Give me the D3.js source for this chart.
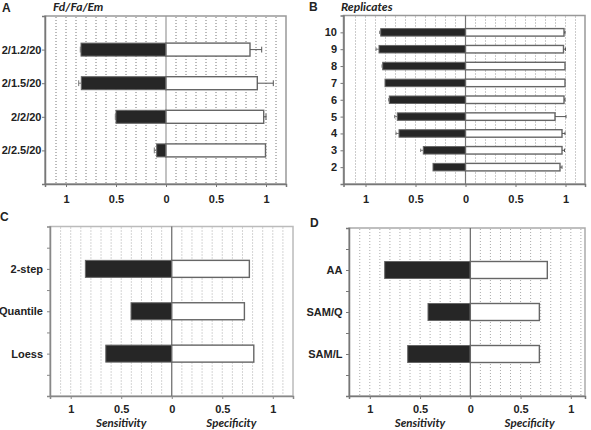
<!DOCTYPE html>
<html>
<head>
<meta charset="utf-8">
<script src="https://cdn.jsdelivr.net/npm/d3@7"></script>
<style>
  html, body { margin: 0; padding: 0; background: #fff; }
  svg { display: block; }
</style>
</head>
<body>
<svg id="chart" width="591" height="430"></svg>
<script>
// ---------- data ----------
const categoriesA = ["2/1.2/20", "2/1.5/20", "2/2/20", "2/2.5/20"];
const sensA      = [0.850, 0.847, 0.500, 0.093];
const sensErrA   = [0.007, 0.026, 0.007, 0.024];
const specA      = [0.840, 0.913, 0.977, 0.995];
const specErrA   = [0.117, 0.160, 0.023, 0.000];

const categoriesB = ["10", "9", "8", "7", "6", "5", "4", "3", "2"];
const sensB      = [0.848, 0.865, 0.828, 0.805, 0.762, 0.682, 0.665, 0.422, 0.325];
const sensErrB   = [0.010, 0.030, 0.007, 0.000, 0.006, 0.026, 0.030, 0.026, 0.000];
const specB      = [0.985, 0.980, 0.995, 0.995, 0.985, 0.895, 0.965, 0.965, 0.945];
const specErrB   = [0.010, 0.020, 0.000, 0.000, 0.010, 0.110, 0.030, 0.025, 0.020];

const categoriesC = ["2-step", "Quantile", "Loess"];
const sensC      = [0.855, 0.403, 0.653];
const specC      = [0.768, 0.719, 0.812];

const categoriesD = ["AA", "SAM/Q", "SAM/L"];
const sensD      = [0.852, 0.421, 0.623];
const specD      = [0.766, 0.687, 0.687];

const xTickValues = [-1, -0.5, 0, 0.5, 1];
const gridValues = d3.range(-11, 12).filter(v => v !== 0).map(v => v / 10);

const SANS = '"Liberation Sans", Arial, Helvetica, sans-serif';
const ITAL = 'Lato, "Open Sans", sans-serif';

const panels = [
  { letter: "A", title: "Fd/Fa/Em", cats: categoriesA, sens: sensA, sensErr: sensErrA, spec: specA, specErr: specErrA,
    box: { l: 45, r: 286, t: 16, b: 184 }, xDom: [-1.21, 1.20], yDom: [0, 5], yTicks: [1, 2, 3, 4],
    barH: 13, labelOff: 3.5, xPad: 8.5, gridColor: "#777", zeroColor: "#999", frameColor: "#999", axisColor: "#777",
    letterPos: [2, 11.5], titlePos: [53, 10.5], xLabels: false },
  { letter: "B", title: "Replicates", cats: categoriesB, sens: sensB, sensErr: sensErrB, spec: specB, specErr: specErrB,
    box: { l: 343.5, r: 585, t: 15.5, b: 184 }, xDom: [-1.22, 1.195], yDom: [0, 10], yTicks: d3.range(1, 10),
    barH: 7.5, labelOff: 6.5, xPad: 8.5, gridColor: "#999", zeroColor: "#777", frameColor: "#999", axisColor: "#777",
    letterPos: [309, 10.5], titlePos: [341, 10.5], xLabels: false },
  { letter: "C", title: "", cats: categoriesC, sens: sensC, sensErr: null, spec: specC, specErr: null,
    box: { l: 50, r: 293, t: 226.5, b: 396 }, xDom: [-1.205, 1.2], yDom: [0, 4], yTicks: [0.5, 1, 1.5, 2, 2.5, 3, 3.5],
    barH: 17, labelOff: 7, xPad: 6, gridColor: "#aaa", zeroColor: "#666", frameColor: "#bbb", axisColor: "#888",
    letterPos: [0, 220.5], titlePos: null, xLabels: true },
  { letter: "D", title: "", cats: categoriesD, sens: sensD, sensErr: null, spec: specD, specErr: null,
    box: { l: 349, r: 585, t: 228, b: 396 }, xDom: [-1.207, 1.141], yDom: [0, 4], yTicks: [0.5, 1, 1.5, 2, 2.5, 3, 3.5],
    barH: 17, labelOff: 6.5, xPad: 6, gridColor: "#aaa", zeroColor: "#666", frameColor: "#aaa", axisColor: "#777",
    letterPos: [310, 227], titlePos: null, xLabels: true }
];

const svg = d3.select("#chart");

function styleLabel(sel, size) {
  sel.style("font-family", SANS).style("font-weight", "bold")
     .style("font-size", size + "px").style("fill", "#222");
}
function styleItal(sel, size) {
  sel.style("font-family", ITAL).style("font-weight", "bold").style("font-style", "italic")
     .style("font-size", size + "px").style("fill", "#222");
}

panels.forEach(p => {
  const g = svg.append("g");
  const x = d3.scaleLinear().domain(p.xDom).range([p.box.l, p.box.r]);
  const y = d3.scaleLinear().domain(p.yDom).range([p.box.t, p.box.b]);

  // frame
  g.append("rect")
    .attr("x", p.box.l).attr("y", p.box.t)
    .attr("width", p.box.r - p.box.l).attr("height", p.box.b - p.box.t)
    .attr("fill", "#fff").attr("stroke", p.frameColor).attr("stroke-width", 1.5);

  // gridlines
  g.selectAll(".grid").data(gridValues).join("line")
    .attr("x1", d => x(d)).attr("x2", d => x(d))
    .attr("y1", p.box.t + 1).attr("y2", p.box.b - 1)
    .attr("stroke", p.gridColor).attr("stroke-width", 1)
    .attr("stroke-dasharray", "1,2");

  // zero line
  g.append("line")
    .attr("x1", x(0)).attr("x2", x(0)).attr("y1", p.box.t).attr("y2", p.box.b)
    .attr("stroke", p.zeroColor).attr("stroke-width", 1.2);

  const idx = p.cats.map((c, i) => i);
  const yc = i => y(i + 1);

  // sensitivity bars (left, black)
  g.selectAll(".sens").data(idx).join("rect")
    .attr("x", i => x(-p.sens[i])).attr("y", i => yc(i) - p.barH / 2)
    .attr("width", i => x(0) - x(-p.sens[i])).attr("height", p.barH)
    .attr("fill", "#262626").attr("stroke", "#666").attr("stroke-width", 1);

  // specificity bars (right, white)
  g.selectAll(".spec").data(idx).join("rect")
    .attr("x", x(0)).attr("y", i => yc(i) - p.barH / 2)
    .attr("width", i => x(p.spec[i]) - x(0)).attr("height", p.barH)
    .attr("fill", "#fff").attr("stroke", "#666").attr("stroke-width", 1.4);

  // error bars
  const cap = Math.min(6, p.barH * 0.45);
  if (p.sensErr) {
    const e = idx.filter(i => p.sensErr[i] > 0);
    g.selectAll(".se").data(e).join("path")
      .attr("d", i => {
        const x0 = x(-p.sens[i]), x1 = x(-p.sens[i] - p.sensErr[i]), yy = yc(i);
        return `M${x0},${yy}H${x1}M${x1},${yy - cap / 2}V${yy + cap / 2}`;
      })
      .attr("fill", "none").attr("stroke", "#777").attr("stroke-width", 1);
  }
  if (p.specErr) {
    const e = idx.filter(i => p.specErr[i] > 0);
    g.selectAll(".pe").data(e).join("path")
      .attr("d", i => {
        const x0 = x(p.spec[i]), x1 = x(p.spec[i] + p.specErr[i]), yy = yc(i);
        return `M${x0},${yy}H${x1}M${x1},${yy - cap / 2}V${yy + cap / 2}`;
      })
      .attr("fill", "none").attr("stroke", "#555").attr("stroke-width", 1);
  }

  // x axis
  const xAxis = d3.axisBottom(x).tickValues(xTickValues).tickSize(3).tickPadding(p.xPad)
    .tickFormat(d => d3.format("")(Math.abs(d)));
  const xa = g.append("g").attr("transform", `translate(0,${p.box.b})`).call(xAxis);
  xa.select(".domain").attr("stroke", p.axisColor).attr("stroke-width", 1.5);
  xa.selectAll(".tick line").attr("stroke", p.axisColor);
  styleLabel(xa.selectAll(".tick text"), 11);

  // y axis
  const yAxis = d3.axisLeft(y).tickValues(p.yTicks).tickSize(3).tickPadding(p.labelOff - 3)
    .tickFormat(d => Number.isInteger(d) ? p.cats[d - 1] : "");
  const ya = g.append("g").attr("transform", `translate(${p.box.l},0)`).call(yAxis);
  ya.select(".domain").attr("stroke", p.axisColor).attr("stroke-width", 1.5);
  ya.selectAll(".tick line").attr("stroke", p.axisColor);
  styleLabel(ya.selectAll(".tick text"), 11);

  // panel letter
  styleLabel(svg.append("text").attr("x", p.letterPos[0]).attr("y", p.letterPos[1]).text(p.letter), 12);

  if (p.titlePos) {
    styleItal(svg.append("text").attr("x", p.titlePos[0]).attr("y", p.titlePos[1]).text(p.title), 12);
  }
  if (p.xLabels) {
    styleItal(svg.append("text").attr("text-anchor", "middle")
      .attr("x", x(-0.5)).attr("y", 426.5).text("Sensitivity"), 11.5);
    styleItal(svg.append("text").attr("text-anchor", "middle")
      .attr("x", x(0.59)).attr("y", 426.5).text("Specificity"), 11.5);
  }
});
</script>
</body>
</html>
